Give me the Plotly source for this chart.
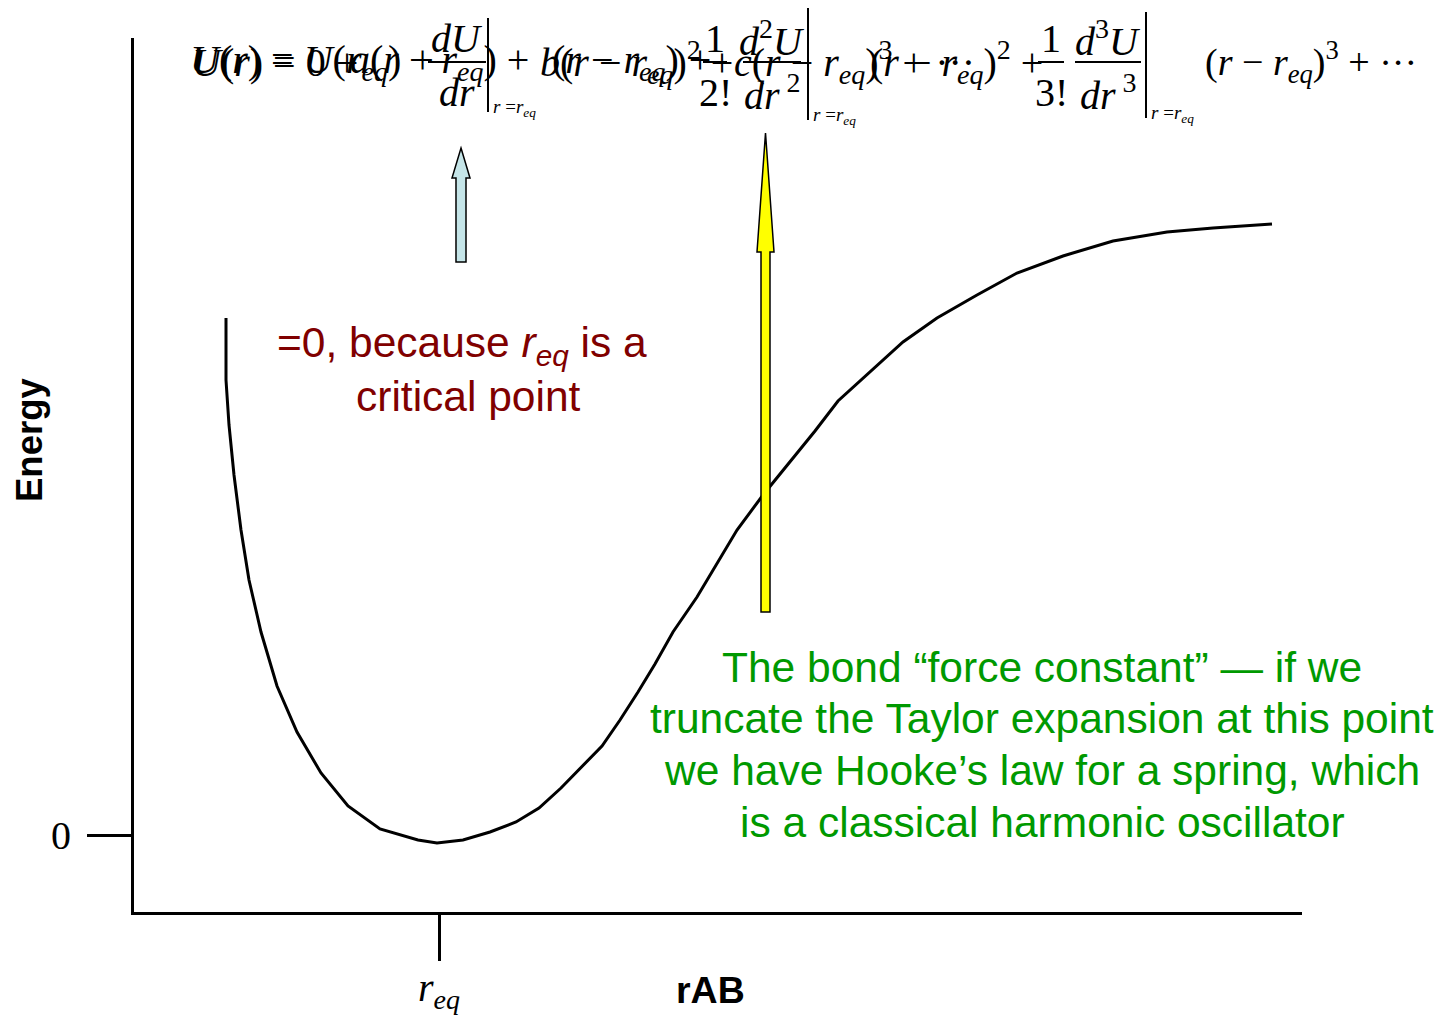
import plotly.graph_objects as go

# ---- data ----
r_values = [0.92, 0.92, 0.95, 1.00, 1.07, 1.15, 1.27, 1.43, 1.63, 1.87, 2.14, 2.46, 2.84, 3.03,
            3.29, 3.56, 3.82, 4.05, 4.27, 4.47, 4.68, 4.86, 5.04, 5.21, 5.39, 5.63, 5.83, 6.03,
            6.29, 6.54, 6.81, 7.04, 7.36, 7.69, 8.03, 8.43, 8.83, 9.29, 9.79, 10.33, 10.79, 11.38]
energy_values = [5.17, 4.55, 4.10, 3.60, 3.05, 2.55, 2.03, 1.49, 1.03, 0.62, 0.29, 0.06, -0.05, -0.08,
                 -0.05, 0.03, 0.13, 0.27, 0.47, 0.68, 0.89, 1.15, 1.43, 1.71, 2.03, 2.38, 2.72, 3.05,
                 3.40, 3.71, 4.04, 4.34, 4.63, 4.93, 5.17, 5.40, 5.62, 5.79, 5.94, 6.03, 6.07, 6.11]
r_eq = 3.05
x_tick_vals = [r_eq]
x_tick_text = ["<i>r</i><sub><i>eq</i></sub>"]
y_tick_vals = [0]
y_tick_text = ["0"]
X_RANGE = [0, 11.68]
Y_RANGE = [-0.77, 7.97]

# ---- layout geometry (page pixels; the page body adds an 8px offset) ----
OFF = 8
PAGE_W, PAGE_H = 1444, 1015
W, H = PAGE_W - OFF, PAGE_H - OFF
L, R, T, B = 134, 1302, 38, 912


def px(x):
    return (x - L) / (R - L)


def py(y):
    return (B - y) / (B - T)


SERIF = "Liberation Serif"
SANS = "Liberation Sans"
MATH = 40

fig = go.Figure()
fig.add_trace(go.Scatter(x=r_values, y=energy_values, mode="lines",
                         line=dict(color="black", width=3), hoverinfo="skip"))

annotations = []
shapes = []


def text(x, y, s, size=MATH, family=SERIF, color="black", xanchor="left", yanchor="middle"):
    annotations.append(dict(x=px(x), y=py(y), xref="paper", yref="paper", text=s, showarrow=False,
                            font=dict(family=family, size=size, color=color),
                            xanchor=xanchor, yanchor=yanchor))


def line(x0, y0, x1, y1, w=2, color="black"):
    shapes.append(dict(type="line", xref="paper", yref="paper", x0=px(x0), y0=py(y0),
                       x1=px(x1), y1=py(y1), line=dict(color=color, width=w)))


def frac(cx, num, den, half):
    text(cx, 38, num, xanchor="center")
    line(cx - half, 62, cx + half, 62)
    text(cx, 92, den, xanchor="center")


def evalbar(x, y0, y1):
    line(x, y0, x, y1, w=2)
    text(x + 3, y1 - 4, "<i>r</i> =<i>r</i><sub><i>eq</i></sub>", size=19)


RE = "<i>r</i><sub><i>eq</i></sub>"

# second (overlaid) equation
text(190, 62, "<i>U</i>(<i>r</i>) = 0 +")
text(348, 62, "<i>a</i>(<i>r</i> − " + RE + ") +")
text(538, 62, "<i>b</i>(<i>r</i> − " + RE + ")<sup>2</sup> +")
text(732, 62, "<i>c</i>(<i>r</i> − " + RE + ")<sup>3</sup> + ···")

# Taylor expansion
text(188, 62, "<i>U</i>(<i>r</i>) = <i>U</i>(" + RE + ") +")
frac(457, "<i>dU</i>", "<i>dr</i>", 29)
evalbar(488, 18, 112)
text(550, 62, "(<i>r</i> − " + RE + ") +")
frac(715, "1", "2!", 12)
frac(772, "<i>d</i><sup>2</sup><i>U</i>", "<i>dr</i><sup> 2</sup>", 29)
evalbar(808, 5, 120)
text(868, 62, "(<i>r</i> − " + RE + ")<sup>2</sup> +")
frac(1051, "1", "3!", 13)
frac(1108, "<i>d</i><sup>3</sup><i>U</i>", "<i>dr</i><sup> 3</sup>", 33)
evalbar(1146, 12, 118)
text(1203, 62, "(<i>r</i> − " + RE + ")<sup>3</sup> + ···", size=38)


# arrows
def arrow_path(cx, tip, head_base, bottom, head_half, shaft_half):
    pts = [(cx, tip), (cx + head_half, head_base), (cx + shaft_half, head_base),
           (cx + shaft_half, bottom), (cx - shaft_half, bottom), (cx - shaft_half, head_base),
           (cx - head_half, head_base)]
    return "M " + " L ".join(f"{px(a):.5f},{py(b):.5f}" for a, b in pts) + " Z"


shapes.append(dict(type="path", xref="paper", yref="paper",
                   path=arrow_path(461, 148, 178, 262, 9, 5),
                   fillcolor="#C5E5E8", line=dict(color="black", width=1.5)))
shapes.append(dict(type="path", xref="paper", yref="paper",
                   path=arrow_path(765.5, 133, 252, 612, 8.5, 4.5),
                   fillcolor="#FFFF00", line=dict(color="black", width=1.5)))

# red note
RED = "#800000"
text(462, 345, "=0, because <i>r</i><sub><i>eq</i></sub> is a", size=42.5, family=SANS, color=RED,
     xanchor="center")
text(468, 396, "critical point", size=42.5, family=SANS, color=RED, xanchor="center")

# green note
GREEN = "#009900"
green_lines = ["The bond “force constant” — if we",
               "truncate the Taylor expansion at this point",
               "we have Hooke’s law for a spring, which",
               "is a classical harmonic oscillator"]
for i, s in enumerate(green_lines):
    text(1042, 667 + 51.7 * i, s, size=42.5, family=SANS, color=GREEN, xanchor="center")

# x tick label (placed from the data value r_eq)
for v, s in zip(x_tick_vals, x_tick_text):
    annotations.append(dict(x=(v - X_RANGE[0]) / (X_RANGE[1] - X_RANGE[0]), y=py(990),
                            xref="paper", yref="paper", text=s, showarrow=False,
                            font=dict(family=SERIF, size=40, color="black"),
                            xanchor="center", yanchor="middle"))

# axis titles
annotations.append(dict(x=px(30), y=py(440), xref="paper", yref="paper", text="<b>Energy</b>",
                        showarrow=False, textangle=-90,
                        font=dict(family=SANS, size=36.5, color="black"),
                        xanchor="center", yanchor="middle"))
text(710, 990, "<b>rAB</b>", size=37.5, family=SANS, xanchor="center")

fig.update_layout(
    width=W, height=H,
    margin=dict(l=L - OFF, r=W - (R - OFF), t=T - OFF, b=H - (B - OFF), pad=0, autoexpand=False),
    paper_bgcolor="white", plot_bgcolor="white",
    showlegend=False,
    annotations=annotations,
    shapes=shapes,
    xaxis=dict(range=X_RANGE, showgrid=False, zeroline=False, showline=True, automargin=False,
               linecolor="black", linewidth=3, ticks="outside", ticklen=46, tickwidth=2.5,
               tickcolor="black", tickvals=x_tick_vals, showticklabels=False),
    yaxis=dict(range=Y_RANGE, showgrid=False, zeroline=False, showline=True, automargin=False,
               linecolor="black", linewidth=3, ticks="outside", ticklen=44, tickwidth=2.5,
               tickcolor="black", tickvals=y_tick_vals, ticktext=y_tick_text,
               tickfont=dict(family=SERIF, size=40, color="black"), ticklabelstandoff=8),
)

fig.write_html("out.html")
